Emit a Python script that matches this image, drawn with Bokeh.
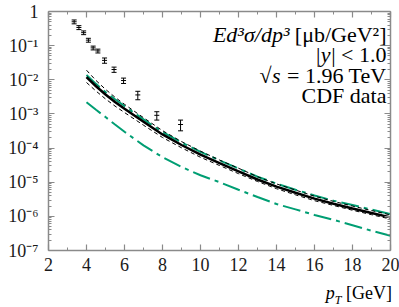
from bokeh.plotting import figure
from bokeh.layouts import column
from bokeh.models import (Range1d, FixedTicker, LinearAxis, LogAxis, Label, Whisker, Div,
                          ColumnDataSource, TeeHead, CustomJSTickFormatter)
from bokeh.embed import file_html
from bokeh.resources import INLINE

# ---- CDF data points ----
pt_data = [3.35, 3.6, 3.85, 4.1, 4.35, 4.6, 4.95, 5.45, 5.95, 6.7, 7.7, 8.95]
sigma_data = [0.50, 0.34, 0.24, 0.145, 0.086, 0.070, 0.037, 0.020, 0.0095, 0.0036, 0.00091, 0.00049]
sigma_err = [0.065, 0.045, 0.03, 0.019, 0.011, 0.009, 0.0065, 0.0035, 0.0017, 0.0010, 0.00025, 0.00017]

# ---- theory curves ----
pt_theory = [4, 4.5, 5, 5.5, 6, 7, 8, 9, 10, 11, 12, 13, 14, 15, 16, 17, 18, 19, 20]
sigma_central = [1.20e-2, 6.46e-3, 3.72e-3, 2.24e-3, 1.41e-3, 5.89e-4, 2.51e-4, 1.23e-4, 6.46e-5,
                 3.63e-5, 2.09e-5, 1.20e-5, 7.41e-6, 4.90e-6, 3.31e-6, 2.34e-6, 1.70e-6, 1.26e-6, 9.33e-7]
sigma_upper = [1.91e-2, 9.55e-3, 5.25e-3, 3.09e-3, 1.91e-3, 7.76e-4, 3.24e-4, 1.55e-4, 8.13e-5,
               4.47e-5, 2.57e-5, 1.45e-5, 8.91e-6, 5.89e-6, 3.89e-6, 2.75e-6, 2.00e-6, 1.48e-6, 1.10e-6]
sigma_lower = [8.32e-3, 4.68e-3, 2.75e-3, 1.70e-3, 1.10e-3, 4.68e-4, 2.04e-4, 1.02e-4, 5.37e-5,
               3.09e-5, 1.78e-5, 1.05e-5, 6.46e-6, 4.27e-6, 2.88e-6, 2.09e-6, 1.51e-6, 1.12e-6, 8.32e-7]
sigma_green = [1.38e-2, 7.59e-3, 4.37e-3, 2.69e-3, 1.70e-3, 6.92e-4, 2.95e-4, 1.45e-4, 7.76e-5,
               4.37e-5, 2.51e-5, 1.45e-5, 9.12e-6, 6.03e-6, 4.07e-6, 2.88e-6, 2.14e-6, 1.58e-6, 1.17e-6]
sigma_green_low = [2.2e-3, 1.32e-3, 8.1e-4, 4.9e-4, 3.0e-4, 1.2e-4, 5.4e-5, 2.8e-5, 1.6e-5,
                   1.0e-5, 6.0e-6, 3.7e-6, 2.3e-6, 1.6e-6, 1.1e-6, 7.9e-7, 5.5e-7, 3.8e-7, 2.7e-7]

# ---- ticks ----
x_ticks = [2, 4, 6, 8, 10, 12, 14, 16, 18, 20]
x_minor = [3, 5, 7, 9, 11, 13, 15, 17, 19]
y_ticks = [1e-7, 1e-6, 1e-5, 1e-4, 1e-3, 1e-2, 1e-1, 1.0]
y_tick_labels = ["10⁻⁷", "10⁻⁶", "10⁻⁵", "10⁻⁴", "10⁻³", "10⁻²", "10⁻¹", "1"]
y_minor = [k * t for t in y_ticks[:-1] for k in range(2, 10)]

FONT = "Liberation Serif, Times New Roman, serif"
GREY = "#8a8a8a"
W, H, HL = 399, 284, 23

p = figure(width=W, height=H, x_range=Range1d(2, 20), y_range=Range1d(1e-7, 1),
           y_axis_type="log", output_backend="svg", toolbar_location=None,
           min_border_left=48, min_border_right=9, min_border_top=11, min_border_bottom=34)
p.grid.visible = False
p.outline_line_color = None
p.background_fill_color = "white"
p.border_fill_color = "white"

xt = FixedTicker(ticks=x_ticks, minor_ticks=x_minor)
yt = FixedTicker(ticks=y_ticks, minor_ticks=y_minor)
yfmt = CustomJSTickFormatter(args=dict(labels=y_tick_labels), code="""
const e = Math.round(Math.log10(tick));
return labels[e + 7];
""")
blank = CustomJSTickFormatter(code="return '';")

bottom = p.xaxis[0]
left = p.yaxis[0]
bottom.ticker = xt
left.ticker = yt
left.formatter = yfmt

top = LinearAxis(ticker=xt, formatter=blank)
right = LogAxis(ticker=yt, formatter=blank)
p.add_layout(top, "above")
p.add_layout(right, "right")

for ax in [bottom, left, top, right]:
    ax.axis_line_color = GREY
    ax.axis_line_width = 1.5
    ax.major_tick_line_color = GREY
    ax.minor_tick_line_color = GREY
    ax.major_tick_line_width = 1.2
    ax.minor_tick_line_width = 1.0
    ax.major_tick_in = 6
    ax.major_tick_out = 0
    ax.minor_tick_in = 3
    ax.minor_tick_out = 0
    ax.major_label_text_font = FONT
    ax.major_label_text_font_size = "18px"
    ax.major_label_text_color = "#1a1a1a"

bottom.major_label_standoff = 7
left.major_label_standoff = 10
for ax in [top, right]:
    ax.major_label_standoff = 0

# ---- curves ----
GREEN = "#009E73"
p.line(pt_theory, sigma_green, color=GREEN, line_width=2, line_dash="18 5 4 5")
p.line(pt_theory, sigma_green_low, color=GREEN, line_width=2, line_dash="18 5 4 5")
p.line(pt_theory, sigma_upper, color="black", line_width=1, line_dash="4 3")
p.line(pt_theory, sigma_lower, color="black", line_width=1, line_dash="4 3")
p.line(pt_theory, sigma_central, color="black", line_width=2.5)

# ---- data with error bars ----
src = ColumnDataSource(dict(
    x=pt_data, y=sigma_data,
    up=[v + e for v, e in zip(sigma_data, sigma_err)],
    lo=[v - e for v, e in zip(sigma_data, sigma_err)],
))
w = Whisker(base="x", upper="up", lower="lo", source=src, dimension="height",
            line_color="black", line_width=1,
            upper_head=TeeHead(size=5, line_color="black", line_width=1),
            lower_head=TeeHead(size=5, line_color="black", line_width=1))
p.add_layout(w)
p.scatter(x="x", y="y", source=src, marker="dash", size=5, color="black", line_width=1)

# ---- annotation text (inside the frame) ----
TS = "22px"
def lab(text, xo, yo, size=TS, style="normal"):
    p.add_layout(Label(x=20, y=1.0, x_offset=xo, y_offset=yo, text=text,
                       text_font=FONT, text_font_size=size, text_font_style=style,
                       text_align="right", text_baseline="middle", text_color="black"))

R = -4
lab("[μb/GeV²]", R, -23)
lab("Ed³σ/dp³", R - 97, -23, style="italic")
lab("| < 1.0", R, -43)
lab("y", R - 56, -43, style="italic")
lab("|", R - 66, -43)
lab("= 1.96 TeV", R, -64)
lab("s", R - 106, -64, style="italic")
lab("√", R - 115, -64)
lab("CDF data", R, -84)

# ---- x axis label as an HTML strip under the figure ----
xlabel = Div(
    text=('<div style="width:392px; text-align:right; font-family:\'Liberation Serif\', serif; '
          'font-size:18px; line-height:18px; color:black; white-space:nowrap;">'
          '<i>p</i><sub style="font-size:12px; line-height:0;"><i>T</i></sub> [GeV]</div>'),
    width=W, height=HL, margin=0)

layout = column(p, xlabel, spacing=0)
open("out.html", "w").write(file_html(layout, INLINE))
